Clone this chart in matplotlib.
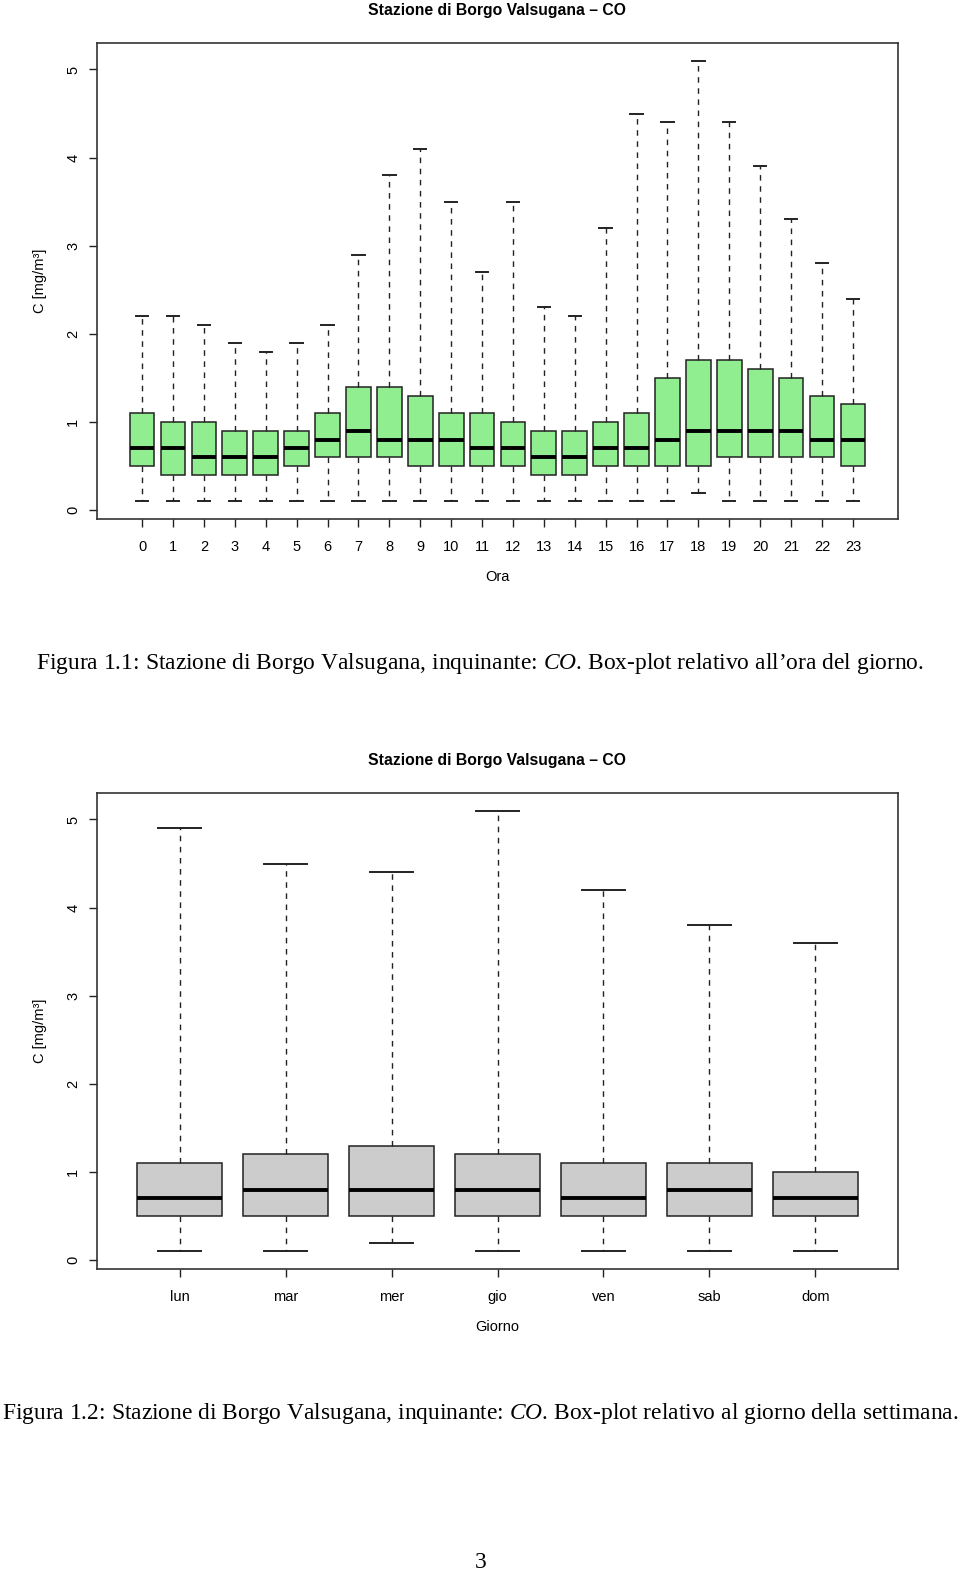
import numpy as np
from matplotlib import pyplot as plt

plt.rcParams['font.family'] = ['Liberation Sans', 'DejaVu Sans']
plt.rcParams['mathtext.fontset'] = 'custom'
plt.rcParams['mathtext.it'] = 'Liberation Serif:italic'
plt.rcParams['mathtext.rm'] = 'Liberation Serif'

# dati: per ora del giorno
ore = [str(h) for h in range(24)]
ora_min = [0.1, 0.1, 0.1, 0.1, 0.1, 0.1, 0.1, 0.1, 0.1, 0.1, 0.1, 0.1,
           0.1, 0.1, 0.1, 0.1, 0.1, 0.1, 0.2, 0.1, 0.1, 0.1, 0.1, 0.1]
ora_q1 = [0.5, 0.4, 0.4, 0.4, 0.4, 0.5, 0.6, 0.6, 0.6, 0.5, 0.5, 0.5,
          0.5, 0.4, 0.4, 0.5, 0.5, 0.5, 0.5, 0.6, 0.6, 0.6, 0.6, 0.5]
ora_med = [0.7, 0.7, 0.6, 0.6, 0.6, 0.7, 0.8, 0.9, 0.8, 0.8, 0.8, 0.7,
           0.7, 0.6, 0.6, 0.7, 0.7, 0.8, 0.9, 0.9, 0.9, 0.9, 0.8, 0.8]
ora_q3 = [1.1, 1.0, 1.0, 0.9, 0.9, 0.9, 1.1, 1.4, 1.4, 1.3, 1.1, 1.1,
          1.0, 0.9, 0.9, 1.0, 1.1, 1.5, 1.7, 1.7, 1.6, 1.5, 1.3, 1.2]
ora_max = [2.2, 2.2, 2.1, 1.9, 1.8, 1.9, 2.1, 2.9, 3.8, 4.1, 3.5, 2.7,
           3.5, 2.3, 2.2, 3.2, 4.5, 4.4, 5.1, 4.4, 3.9, 3.3, 2.8, 2.4]

# per giorno della settimana
giorni = ['lun', 'mar', 'mer', 'gio', 'ven', 'sab', 'dom']
gg_min = [0.1, 0.1, 0.2, 0.1, 0.1, 0.1, 0.1]
gg_q1 = [0.5, 0.5, 0.5, 0.5, 0.5, 0.5, 0.5]
gg_med = [0.7, 0.8, 0.8, 0.8, 0.7, 0.8, 0.7]
gg_q3 = [1.1, 1.2, 1.3, 1.2, 1.1, 1.1, 1.0]
gg_max = [4.9, 4.5, 4.4, 5.1, 4.2, 3.8, 3.6]

W, H = 960, 1571
fig = plt.figure(figsize=(W / 100, H / 100), dpi=100)


def px(x, y):
    return x / W, 1 - y / H


def boxplot(top, labels, mins, q1, med, q3, maxs, colore, xlab):
    ax = fig.add_axes([97 / W, 1 - (top + 476) / H, 801 / W, 476 / H])
    stats = []
    for i in range(len(labels)):
        stats.append({'whislo': mins[i], 'q1': q1[i], 'med': med[i],
                      'q3': q3[i], 'whishi': maxs[i], 'fliers': [],
                      'label': labels[i]})
    n = len(labels)
    ax.bxp(stats, positions=range(1, n + 1), widths=0.8, patch_artist=True,
           showfliers=False,
           boxprops=dict(facecolor=colore, edgecolor='#222222', linewidth=1.1),
           medianprops=dict(color='black', linewidth=2.8, solid_capstyle='butt'),
           whiskerprops=dict(color='#222222', linewidth=1.0, linestyle=(0, (4, 4))),
           capprops=dict(color='#222222', linewidth=1.4), capwidths=0.4)
    ext = n * 0.04
    ax.set_xlim(0.5 - ext, n + 0.5 + ext)
    ax.set_ylim(-0.1, 5.3)
    ax.set_yticks([0, 1, 2, 3, 4, 5])
    ax.set_yticklabels(['0', '1', '2', '3', '4', '5'], rotation=90, va='center')
    ax.tick_params(axis='both', length=6, width=1, colors='#222222',
                   labelcolor='black', labelsize=10.5)
    ax.tick_params(axis='y', pad=6)
    ax.tick_params(axis='x', pad=9)
    for s in ax.spines.values():
        s.set_linewidth(1.2)
        s.set_color('#333333')
    fig.text(*px(497, top - 32), 'Stazione di Borgo Valsugana \u2013 CO',
             ha='center', va='center', fontsize=11.3, fontweight='bold')
    fig.text(*px(40, top + 238), 'C [mg/m\u00b3]', ha='center', va='center',
             rotation=90, fontsize=10.5)
    fig.text(*px(497, top + 534), xlab, ha='center', va='center', fontsize=10.5)
    return ax


boxplot(43, ore, ora_min, ora_q1, ora_med, ora_q3, ora_max, '#90EE90', 'Ora')
boxplot(793, giorni, gg_min, gg_q1, gg_med, gg_q3, gg_max, '#CCCCCC', 'Giorno')

fig.text(*px(480, 664),
         'Figura 1.1: Stazione di Borgo Valsugana, inquinante: $CO$. '
         'Box-plot relativo all\u2019ora del giorno.',
         ha='center', va='center', fontsize=16.9, family='Liberation Serif')
fig.text(*px(480, 1413),
         'Figura 1.2: Stazione di Borgo Valsugana, inquinante: $CO$. '
         'Box-plot relativo al giorno della settimana.',
         ha='center', va='center', fontsize=16.9, family='Liberation Serif')
fig.text(*px(481, 1562), '3', ha='center', va='center', fontsize=16.9,
         family='Liberation Serif')

fig.savefig('out.png', dpi=100)
